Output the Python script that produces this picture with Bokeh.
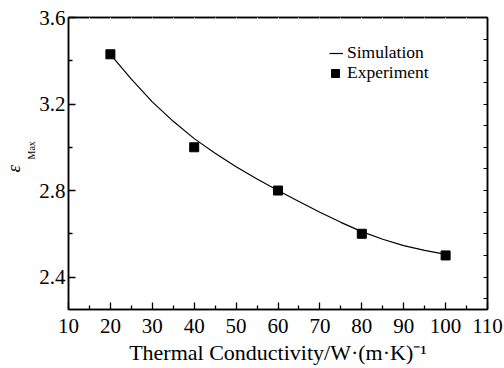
from bokeh.plotting import figure
from bokeh.models import (LinearAxis, FixedTicker, Legend, LegendItem, Range1d, Title)
from bokeh.embed import file_html
from bokeh.resources import INLINE

# ---- data ----
x_exp = [20, 40, 60, 80, 100]
y_exp = [3.43, 3.00, 2.80, 2.60, 2.50]

x_sim = [20, 25, 30, 35, 40, 45, 50, 55, 60, 65, 70, 75, 80, 85, 90, 95, 100]
y_sim = [3.43, 3.315, 3.21, 3.12, 3.04, 2.972, 2.91, 2.853, 2.80, 2.749,
         2.70, 2.653, 2.61, 2.575, 2.545, 2.523, 2.505]

x_ticks = [10, 20, 30, 40, 50, 60, 70, 80, 90, 100, 110]
x_minor = [15, 25, 35, 45, 55, 65, 75, 85, 95, 105]
y_ticks = [2.4, 2.8, 3.2, 3.6]
y_minor = [2.6, 3.0, 3.4]
y_right_ticks = [2.3, 2.4, 2.5, 2.6, 2.7, 2.8, 2.9, 3.0, 3.1, 3.2, 3.3, 3.4, 3.5, 3.6]

x_title = "Thermal Conductivity/W\u00b7(m\u00b7K)\u207b\u00b9"
y_title = "\u03b5"
y_title_sub = "Max"
legend_labels = ["Simulation", "Experiment"]

FONT = "'Liberation Serif', 'Times New Roman', serif"

p = figure(width=504, height=368, x_range=Range1d(10, 110), y_range=Range1d(2.25, 3.6),
           min_border_left=68, min_border_right=17, min_border_top=17, min_border_bottom=59,
           output_backend="svg", toolbar_location=None)
p.grid.visible = False
p.outline_line_color = "black"
p.outline_line_width = 1.5
p.background_fill_color = "white"
p.border_fill_color = "white"

xa = p.xaxis[0]
xa.ticker = FixedTicker(ticks=x_ticks, minor_ticks=x_minor)
ya = p.yaxis[0]
ya.ticker = FixedTicker(ticks=y_ticks, minor_ticks=y_minor)

for ax in (xa, ya):
    ax.axis_line_width = 1.5
    ax.axis_line_color = "black"
    ax.major_tick_in = 7
    ax.major_tick_out = 0
    ax.minor_tick_in = 4
    ax.minor_tick_out = 0
    ax.major_tick_line_width = 1.3
    ax.minor_tick_line_width = 1.3
    ax.major_label_text_font = FONT
    ax.major_label_text_font_size = "21px"
    ax.major_label_text_color = "black"
xa.major_label_standoff = 9
ya.major_label_standoff = 3

xa.axis_label = x_title
xa.axis_label_text_font = FONT
xa.axis_label_text_font_size = "22px"
xa.axis_label_text_font_style = "normal"
xa.axis_label_text_color = "black"
xa.axis_label_standoff = 4

# right axis (ticks only)
ra = LinearAxis(ticker=FixedTicker(ticks=y_right_ticks, minor_ticks=[]))
ra.major_label_text_font_size = "0px"
ra.major_label_standoff = 0
ra.major_tick_in = 4
ra.major_tick_out = 0
ra.axis_line_width = 1.5
ra.major_tick_line_width = 1.2
p.add_layout(ra, "right")

# top axis (faint ticks)
ta = LinearAxis(ticker=FixedTicker(ticks=x_ticks + x_minor, minor_ticks=[]))
ta.major_label_text_font_size = "0px"
ta.major_label_standoff = 0
ta.major_tick_in = 2
ta.major_tick_out = 0
ta.axis_line_width = 1.5
ta.major_tick_line_color = "#d0d0d0"
p.add_layout(ta, "above")

# y title: epsilon with subscript, as two titles on the left
t_sub = Title(text=y_title_sub, align="left", offset=150, standoff=0,
              text_font=FONT, text_font_size="10px", text_font_style="normal",
              text_color="black")
t_eps = Title(text=y_title, align="left", offset=137, standoff=0,
              text_font=FONT, text_font_size="19px", text_font_style="italic",
              text_color="black")
p.add_layout(t_sub, "left")
p.add_layout(t_eps, "left")

# glyphs
sim = p.line(x_sim, y_sim, line_color="black", line_width=1.2)
exp = p.scatter(x_exp, y_exp, marker="square", size=9, fill_color="black", line_color="black")

# legends
leg1 = Legend(items=[LegendItem(label=legend_labels[0], renderers=[sim])],
              location=(261, 246), glyph_width=14, glyph_height=16, label_height=16,
              label_standoff=4, padding=0, spacing=0, margin=0,
              border_line_color=None, background_fill_alpha=0,
              label_text_font=FONT, label_text_font_size="17.5px", label_text_color="black")
leg2 = Legend(items=[LegendItem(label=legend_labels[1], renderers=[exp])],
              location=(255, 226), glyph_width=24, glyph_height=20, label_height=20,
              label_standoff=0, padding=0, spacing=0, margin=0,
              border_line_color=None, background_fill_alpha=0,
              label_text_font=FONT, label_text_font_size="17.5px", label_text_color="black")
p.add_layout(leg1, "center")
p.add_layout(leg2, "center")

open("out.html", "w").write(file_html(p, INLINE))
